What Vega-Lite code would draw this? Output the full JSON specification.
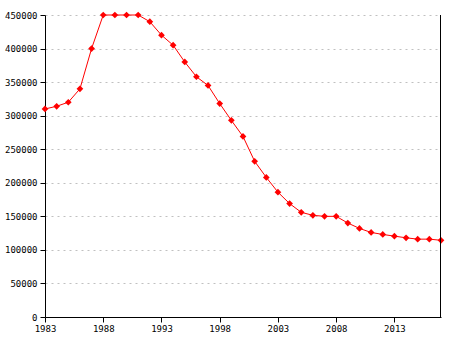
{
  "$schema": "https://vega.github.io/schema/vega-lite/v6.json",
  "width": 396,
  "height": 302,
  "autosize": "none",
  "padding": {"left": 45, "top": 15, "right": 14, "bottom": 23},
  "background": "white",
  "config": {
    "view": {"stroke": null},
    "axis": {"labelFont": "DejaVu Sans Mono", "labelFontSize": 9, "labelColor": "black", "domainColor": "black", "tickColor": "black", "titleFont": "DejaVu Sans Mono"}
  },
  "data": {"values": [
    {"year": 1983, "value": 310000},
    {"year": 1984, "value": 314000},
    {"year": 1985, "value": 320000},
    {"year": 1986, "value": 340000},
    {"year": 1987, "value": 400000},
    {"year": 1988, "value": 450000},
    {"year": 1989, "value": 450000},
    {"year": 1990, "value": 450000},
    {"year": 1991, "value": 450000},
    {"year": 1992, "value": 440000},
    {"year": 1993, "value": 420000},
    {"year": 1994, "value": 405000},
    {"year": 1995, "value": 380000},
    {"year": 1996, "value": 358000},
    {"year": 1997, "value": 345000},
    {"year": 1998, "value": 318000},
    {"year": 1999, "value": 293000},
    {"year": 2000, "value": 269000},
    {"year": 2001, "value": 232000},
    {"year": 2002, "value": 208000},
    {"year": 2003, "value": 186000},
    {"year": 2004, "value": 169000},
    {"year": 2005, "value": 156000},
    {"year": 2006, "value": 151500},
    {"year": 2007, "value": 150000},
    {"year": 2008, "value": 150000},
    {"year": 2009, "value": 140000},
    {"year": 2010, "value": 132000},
    {"year": 2011, "value": 126000},
    {"year": 2012, "value": 123000},
    {"year": 2013, "value": 120500},
    {"year": 2014, "value": 118000},
    {"year": 2015, "value": 116000},
    {"year": 2016, "value": 116000},
    {"year": 2017, "value": 114300}
  ]},
  "encoding": {
    "x": {"field": "year", "type": "quantitative", "scale": {"domain": [1983, 2017], "nice": false, "zero": false},
      "axis": {"title": null, "values": [1983, 1988, 1993, 1998, 2003, 2008, 2013], "format": "d", "grid": false, "tickSize": 5, "labelPadding": 2, "labelFlush": false}},
    "y": {"field": "value", "type": "quantitative", "scale": {"domain": [0, 450000], "nice": false},
      "axis": {"title": null, "values": [0, 50000, 100000, 150000, 200000, 250000, 300000, 350000, 400000, 450000], "format": "d", "grid": true, "gridColor": "#c0c0c0", "gridDash": [2, 4], "tickSize": 5, "labelPadding": 3}}
  },
  "layer": [
    {"mark": {"type": "line", "color": "red", "strokeWidth": 1}},
    {"mark": {"type": "point", "shape": "diamond", "filled": true, "color": "red", "size": 45, "opacity": 1}},
    {"mark": {"type": "rule", "color": "black", "strokeWidth": 1, "xOffset": -0.5},
      "encoding": {"x": {"datum": 2017, "type": "quantitative"}, "y": {"datum": 0, "type": "quantitative"}, "y2": {"datum": 450000}}}
  ]
}
